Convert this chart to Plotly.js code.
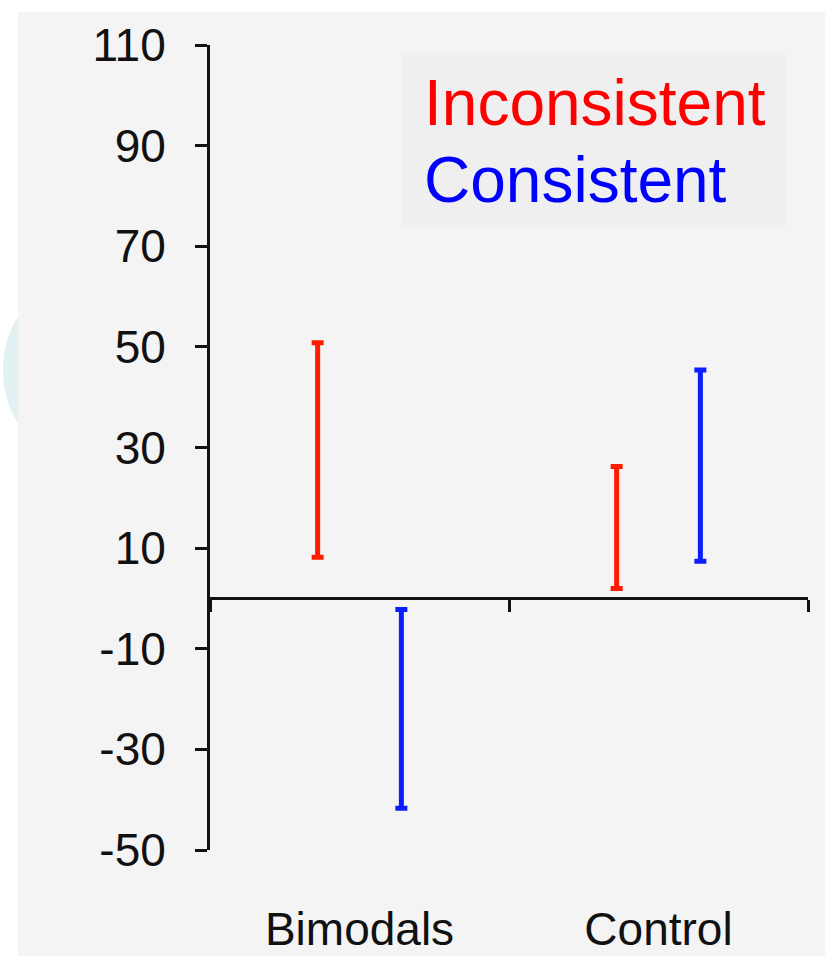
<!DOCTYPE html>
<html>
<head>
<meta charset="utf-8">
<script src="https://cdn.plot.ly/plotly-3.0.1.min.js"></script>
<style>html,body{margin:0;padding:0;background:#fff;}#chart{width:825px;height:956px;}</style>
</head>
<body>
<div id="chart"></div>
<script>
// ---- data ----
const categories = ["Bimodals", "Control"];
const seriesNames = ["Inconsistent", "Consistent"];
const inconsistentLow  = [8.2, 2.0];
const inconsistentHigh = [50.8, 26.2];
const consistentLow    = [-41.7, 7.4];
const consistentHigh   = [-2.2, 45.4];
const yTickVals = [-50, -30, -10, 10, 30, 50, 70, 90, 110];

// ---- style ----
const RED = "#ff1a00", BLUE = "#0a1eff";
const FONT = "Liberation Sans, Arial, sans-serif";
const yMin = -50, yMax = 110;
const offset = 0.14;

function rangeTrace(low, high, dx, color, name) {
  const x = categories.map((c, i) => i + dx);
  const mid = low.map((l, i) => (l + high[i]) / 2);
  const half = low.map((l, i) => (high[i] - l) / 2);
  return {
    type: "scatter", mode: "markers", name: name, x: x, y: mid,
    marker: {size: 1, color: "rgba(0,0,0,0)"},
    error_y: {type: "data", array: half, symmetric: true, color: color, thickness: 5, width: 6},
    showlegend: false, hoverinfo: "skip"
  };
}

const data = [
  rangeTrace(inconsistentLow, inconsistentHigh, -offset, RED, seriesNames[0]),
  rangeTrace(consistentLow, consistentHigh, offset, BLUE, seriesNames[1]),
  {type: "scatter", mode: "markers", x: [0], y: [0], xaxis: "x2", yaxis: "y",
   marker: {size: 1, color: "rgba(0,0,0,0)"}, showlegend: false, hoverinfo: "skip"}
];

const L = 210, R = 17, T = 45, B = 106, W = 825, H = 956;
const pw = W - L - R, ph = H - T - B;
const px = v => (v - L) / pw;
const py = v => (H - B - v) / ph;

const layout = {
  width: W, height: H,
  margin: {l: L, r: R, t: T, b: B, pad: 0},
  paper_bgcolor: "#f4f4f4",
  plot_bgcolor: "rgba(0,0,0,0)",
  font: {family: FONT, color: "#111"},
  showlegend: false,
  xaxis: {
    range: [-0.5, 1.5], tickvals: categories.map((c, i) => i), ticktext: categories,
    showline: false, showgrid: false, zeroline: false, ticks: "",
    tickfont: {size: 46, family: FONT, color: "#111"}, ticklabelstandoff: 48, fixedrange: true
  },
  xaxis2: {
    overlaying: "x", anchor: "free", position: (0 - yMin) / (yMax - yMin), side: "bottom",
    range: [-0.5, 1.5], tickvals: [-0.5, 0.5, 1.5], showticklabels: false,
    ticks: "outside", ticklen: 12, tickwidth: 3, tickcolor: "#111",
    showline: true, linewidth: 3, linecolor: "#111", showgrid: false, zeroline: false
  },
  yaxis: {
    range: [yMin, yMax], tickvals: yTickVals, ticktext: yTickVals.map(String),
    showline: true, linewidth: 3, linecolor: "#111",
    ticks: "outside", ticklen: 12, tickwidth: 3, tickcolor: "#111",
    showgrid: false, zeroline: false,
    tickfont: {size: 46, family: FONT, color: "#111"}, ticklabelstandoff: 20
  },
  shapes: [
    {type: "rect", xref: "paper", yref: "paper", x0: px(0), x1: px(W), y0: py(12), y1: py(0),
     fillcolor: "#ffffff", line: {width: 0}, layer: "below"},
    {type: "rect", xref: "paper", yref: "paper", x0: px(0), x1: px(18), y0: py(H), y1: py(0),
     fillcolor: "#ffffff", line: {width: 0}, layer: "below"},
    {type: "circle", xref: "paper", yref: "paper", x0: px(3), x1: px(90), y0: py(440), y1: py(300),
     fillcolor: "#e2f1f1", line: {width: 0}, layer: "below"},
    {type: "rect", xref: "paper", yref: "paper", x0: px(18), x1: px(95), y0: py(450), y1: py(290),
     fillcolor: "#f4f4f4", line: {width: 0}, layer: "below"},
    {type: "rect", xref: "paper", yref: "paper", x0: px(402), x1: px(786), y0: py(227), y1: py(53),
     fillcolor: "#efefef", line: {width: 0}, layer: "below"}
  ],
  annotations: [
    {xref: "paper", yref: "paper", x: px(422), y: py(103), xanchor: "left", yanchor: "middle",
     text: seriesNames[0], showarrow: false, font: {size: 64, family: FONT, color: "#ff0000"}},
    {xref: "paper", yref: "paper", x: px(422), y: py(180), xanchor: "left", yanchor: "middle",
     text: seriesNames[1], showarrow: false, font: {size: 64, family: FONT, color: "#0000ff"}}
  ]
};

Plotly.newPlot("chart", data, layout, {staticPlot: true, displayModeBar: false});
</script>
</body>
</html>
